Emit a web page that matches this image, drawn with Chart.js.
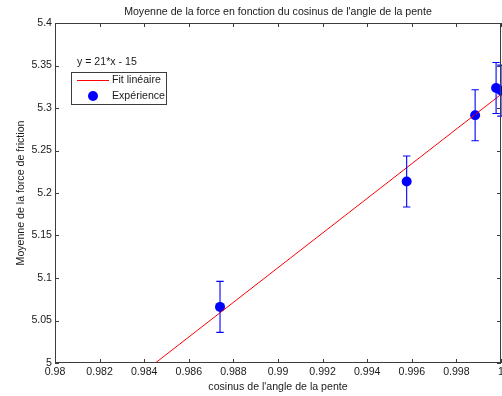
<!DOCTYPE html>
<html>
<head>
<meta charset="utf-8">
<script src="https://cdn.jsdelivr.net/npm/chart.js@4/dist/chart.umd.min.js"></script>
<style>
  html, body { margin: 0; padding: 0; background: #fff; overflow: hidden; }
  canvas { display: block; }
</style>
</head>
<body>
<canvas id="c" width="502" height="396"></canvas>
<script>
// Measured mean friction force against the cosine of the slope angle
const cosAngle  = [0.98740, 0.99577, 0.99884, 0.99978, 1.00000];
const forceMean = [5.066, 5.2135, 5.2915, 5.3235, 5.3205];
const forceErr  = [0.030, 0.030, 0.030, 0.030, 0.030];

// Linear fit end points
const fitX = [0.9845, 1.0];
const fitY = [5.0, 5.316];
const fitLabel = 'y = 21*x - 15';

// Axis ticks
const xTicks = [0.98, 0.982, 0.984, 0.986, 0.988, 0.99, 0.992, 0.994, 0.996, 0.998, 1];
const yTicks = [5, 5.05, 5.1, 5.15, 5.2, 5.25, 5.3, 5.35, 5.4];

const FONT = '"Liberation Sans", Arial, sans-serif';
const FSIZE = 10.6;
const TEXT = '#1a1a1a';
const FRAME = '#3c3c3c';

const points = cosAngle.map((x, i) => ({ x, y: forceMean[i], err: forceErr[i] }));
const fitLine = fitX.map((x, i) => ({ x, y: fitY[i] }));

// Error bars with caps, drawn through the chart scales
const errorBars = {
  id: 'errorBars',
  afterDatasetsDraw(chart) {
    const { ctx, scales: { x, y } } = chart;
    ctx.save();
    ctx.strokeStyle = '#0000ff';
    ctx.lineWidth = 1.1;
    points.forEach(p => {
      const px = x.getPixelForValue(p.x);
      const top = y.getPixelForValue(p.y + p.err);
      const bot = y.getPixelForValue(p.y - p.err);
      ctx.beginPath();
      ctx.moveTo(px, top); ctx.lineTo(px, bot);
      ctx.moveTo(px - 3.7, top); ctx.lineTo(px + 3.7, top);
      ctx.moveTo(px - 3.7, bot); ctx.lineTo(px + 3.7, bot);
      ctx.stroke();
    });
    ctx.restore();
  }
};

// Boxed axes with inward tick marks, title and legend
const decorations = {
  id: 'decorations',
  afterDraw(chart) {
    const { ctx, chartArea: a, scales: { x, y } } = chart;
    ctx.save();
    ctx.strokeStyle = FRAME;
    ctx.lineWidth = 1;
    ctx.strokeRect(a.left + 0.5, a.top + 0.5, a.right - a.left - 1, a.bottom - a.top - 1);
    const tl = 4;
    ctx.beginPath();
    xTicks.forEach(v => {
      const px = Math.round(x.getPixelForValue(v)) + 0.5;
      ctx.moveTo(px, a.bottom); ctx.lineTo(px, a.bottom - tl);
      ctx.moveTo(px, a.top); ctx.lineTo(px, a.top + tl);
    });
    yTicks.forEach(v => {
      const py = Math.round(y.getPixelForValue(v)) + 0.5;
      ctx.moveTo(a.left, py); ctx.lineTo(a.left + tl, py);
      ctx.moveTo(a.right, py); ctx.lineTo(a.right - tl, py);
    });
    ctx.stroke();

    // Title
    ctx.fillStyle = TEXT;
    ctx.font = FSIZE + 'px ' + FONT;
    ctx.textAlign = 'center';
    ctx.textBaseline = 'middle';
    ctx.fillText("Moyenne de la force en fonction du cosinus de l'angle de la pente", (a.left + a.right) / 2, 12.5);

    // Fit equation
    ctx.textAlign = 'left';
    ctx.fillText(fitLabel, 77, 62);

    // Legend box
    ctx.fillStyle = '#fff';
    ctx.fillRect(71.5, 72.5, 95, 32);
    ctx.strokeStyle = FRAME;
    ctx.strokeRect(71.5, 72.5, 95, 32);
    ctx.strokeStyle = '#ff0000';
    ctx.beginPath();
    ctx.moveTo(77, 80.5); ctx.lineTo(109, 80.5);
    ctx.stroke();
    ctx.fillStyle = '#0000ff';
    ctx.beginPath();
    ctx.arc(93, 96, 5, 0, Math.PI * 2);
    ctx.fill();
    ctx.fillStyle = TEXT;
    ctx.fillText('Fit linéaire', 112, 80);
    ctx.fillText('Expérience', 112, 96);
    ctx.restore();
  }
};

new Chart(document.getElementById('c'), {
  type: 'scatter',
  data: {
    datasets: [
      {
        label: 'Fit linéaire',
        data: fitLine,
        showLine: true,
        borderColor: '#ff0000',
        borderWidth: 1,
        pointRadius: 0,
        fill: false
      },
      {
        label: 'Expérience',
        data: points,
        pointRadius: 5,
        pointBackgroundColor: '#0000ff',
        pointBorderColor: '#0000ff',
        pointBorderWidth: 0,
        clip: false
      }
    ]
  },
  options: {
    responsive: false,
    animation: false,
    events: [],
    layout: { autoPadding: false, padding: { top: 23, right: 1, left: 0, bottom: 0 } },
    plugins: {
      legend: { display: false },
      title: { display: false },
      tooltip: { enabled: false }
    },
    scales: {
      x: {
        type: 'linear',
        min: 0.98,
        max: 1,
        afterBuildTicks: s => { s.ticks = xTicks.map(v => ({ value: v })); },
        afterFit: s => { s.height = 33; s.paddingLeft = 0; s.paddingRight = 0; },
        grid: { display: false, drawTicks: false },
        border: { display: false },
        ticks: {
          autoSkip: false,
          maxRotation: 0,
          padding: 3,
          color: TEXT,
          font: { family: FONT, size: FSIZE },
          callback: v => String(v)
        },
        title: {
          display: true,
          text: "cosinus de l'angle de la pente",
          color: TEXT,
          font: { family: FONT, size: FSIZE },
          padding: { top: 0, bottom: 2.5 }
        }
      },
      y: {
        type: 'linear',
        min: 5,
        max: 5.4,
        afterBuildTicks: s => { s.ticks = yTicks.map(v => ({ value: v })); },
        afterFit: s => { s.width = 55; s.paddingTop = 0; s.paddingBottom = 0; },
        grid: { display: false, drawTicks: false },
        border: { display: false },
        ticks: {
          autoSkip: false,
          padding: 3,
          color: TEXT,
          font: { family: FONT, size: FSIZE },
          callback: v => String(v)
        },
        title: {
          display: true,
          text: 'Moyenne de la force de friction',
          color: TEXT,
          font: { family: FONT, size: FSIZE },
          padding: { top: 15, bottom: 0 }
        }
      }
    }
  },
  plugins: [errorBars, decorations]
});
</script>
</body>
</html>
